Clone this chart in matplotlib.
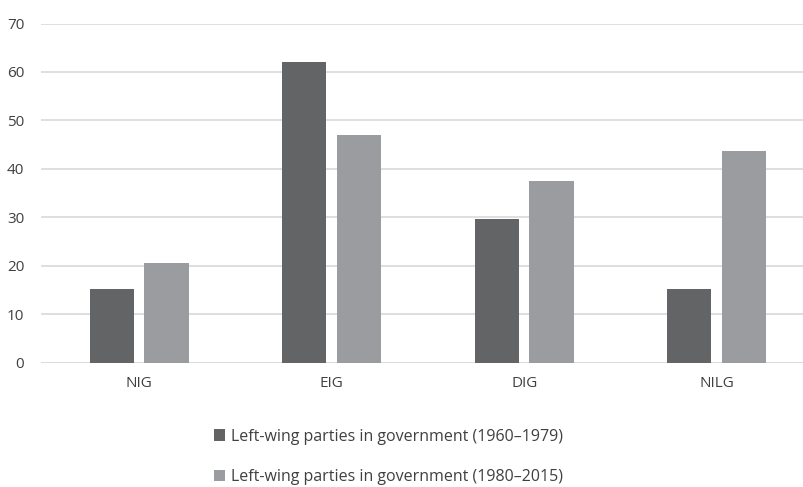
import numpy as np
import matplotlib.pyplot as plt

categories = ['NIG', 'EIG', 'DIG', 'NILG']
series_1960_1979 = [15.2, 62.0, 29.6, 15.2]
series_1980_2015 = [20.6, 46.9, 37.4, 43.6]
labels = ['Left-wing parties in government (1960\u20131979)',
          'Left-wing parties in government (1980\u20132015)']
y_ticks = [0, 10, 20, 30, 40, 50, 60, 70]

plt.rcParams['font.family'] = ['Open Sans', 'DejaVu Sans']

fig = plt.figure(figsize=(8.04, 4.87), dpi=100)
ax = fig.add_axes([0.051, 0.2556, 0.96, 0.696])

x = np.arange(len(categories))
width = 0.23
ax.bar(x - 0.142, series_1960_1979, width, color='#636466', label=labels[0], zorder=3)
ax.bar(x + 0.142, series_1980_2015, width, color='#9b9c9f', label=labels[1], zorder=3)

ax.set_xlim(-0.51, 3.5)
ax.set_ylim(0, 70)
ax.set_yticks(y_ticks)
ax.set_xticks(x)
ax.set_xticklabels(categories)
ax.grid(axis='y', color='#d9d9d9', linewidth=1.2, zorder=0)
ax.tick_params(axis='both', length=0, labelsize=11, colors='#404040')
ax.tick_params(axis='x', pad=10)
ax.tick_params(axis='y', pad=12)
for s in ax.spines.values():
    s.set_visible(False)
ax.axhline(0, color='#d9d9d9', linewidth=1.2, zorder=2)

leg = fig.legend(loc='center', bbox_to_anchor=(0.483, 0.0616), ncol=1,
                 frameon=False, fontsize=11.5, handlelength=0.7, handleheight=0.7,
                 handletextpad=0.4, labelspacing=1.55, labelcolor='#404040')

fig.savefig('out.png', dpi=100)
